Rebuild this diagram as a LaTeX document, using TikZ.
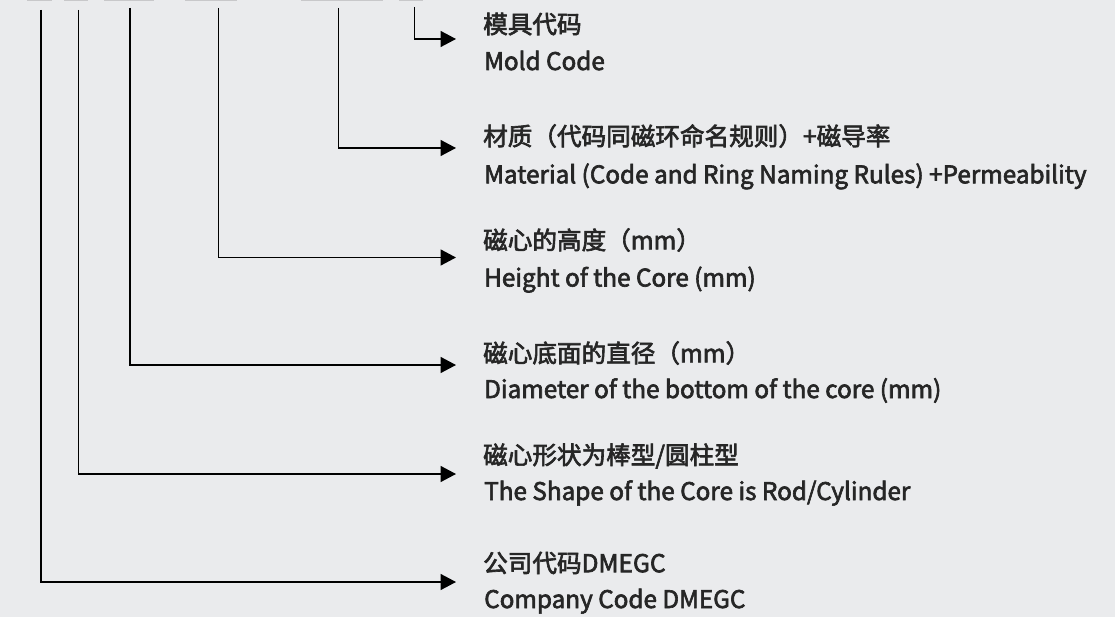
\documentclass[tikz,border=0pt]{standalone}
\usepackage{fontspec}
\setmainfont{Noto Sans CJK SC}
\newfontfamily\lblfont{Noto Sans CJK SC}[FakeBold=2.6]
\usetikzlibrary{arrows.meta}
\definecolor{bgc}{RGB}{234,235,237}
\definecolor{txt}{RGB}{38,38,38}
\definecolor{stub}{RGB}{200,200,202}
\tikzset{
  lead/.style={draw=black,line width=1.6pt,-{Triangle[length=15.5pt,width=16pt]}},
  cn/.style={anchor=west,inner sep=0pt,text=txt,font=\lblfont\fontsize{24.6}{27}\selectfont},
  en/.style={anchor=base west,inner sep=0pt,text=txt,font=\lblfont\fontsize{24.3}{28}\selectfont},
  stubbar/.style={fill=stub,draw=none}
}
\begin{document}
\begin{tikzpicture}[x=1pt,y=-1pt]
\fill[bgc] (0,0) rectangle (1115,617);
\useasboundingbox (0,0) rectangle (1115,617);
% top stubs
\foreach \a/\b in {27/52,64/88,104/154,185/237,301/383,399/423}
  \fill[stubbar] (\a,0) rectangle (\b,1.4);
% start coordinates
\coordinate (s1) at (414.3,7);
\coordinate (s2) at (338.3,8);
\coordinate (s3) at (218.3,8);
\coordinate (s4) at (130,8);
\coordinate (s5) at (78.3,10);
\coordinate (s6) at (40.7,10);
% arrow tips
\coordinate (t1) at (456,39);
\coordinate (t2) at (456,148);
\coordinate (t3) at (456,257.5);
\coordinate (t4) at (456,365);
\coordinate (t5) at (456,474);
\coordinate (t6) at (456,582);
% labels
\node[cn] (c1) at (483,24) {模具代码};
\node[en] (e1) at (484,70) {Mold Code};
\node[cn] (c2) at (483,136) {材质（代码同磁环命名规则）+磁导率};
\node[en] (e2) at (484,183.3) {Material (Code and Ring Naming Rules) +Permeability};
\node[cn] (c3) at (483,240) {磁心的高度（mm）};
\node[en] (e3) at (484,286.5) {Height of the Core (mm)};
\node[cn] (c4) at (483,353) {磁心底面的直径（mm）};
\node[en] (e4) at (484,398) {Diameter of the bottom of the core (mm)};
\node[cn] (c5) at (483,456) {磁心形状为棒型/圆柱型};
\node[en] (e5) at (484,500) {The Shape of the Core is Rod/Cylinder};
\node[cn] (c6) at (483,563) {公司代码DMEGC};
\node[en] (e6) at (484,608) {Company Code DMEGC};
% connectors
\foreach \i in {1,...,6}
  \draw[lead] (s\i) |- (t\i);
\end{tikzpicture}
\end{document}
